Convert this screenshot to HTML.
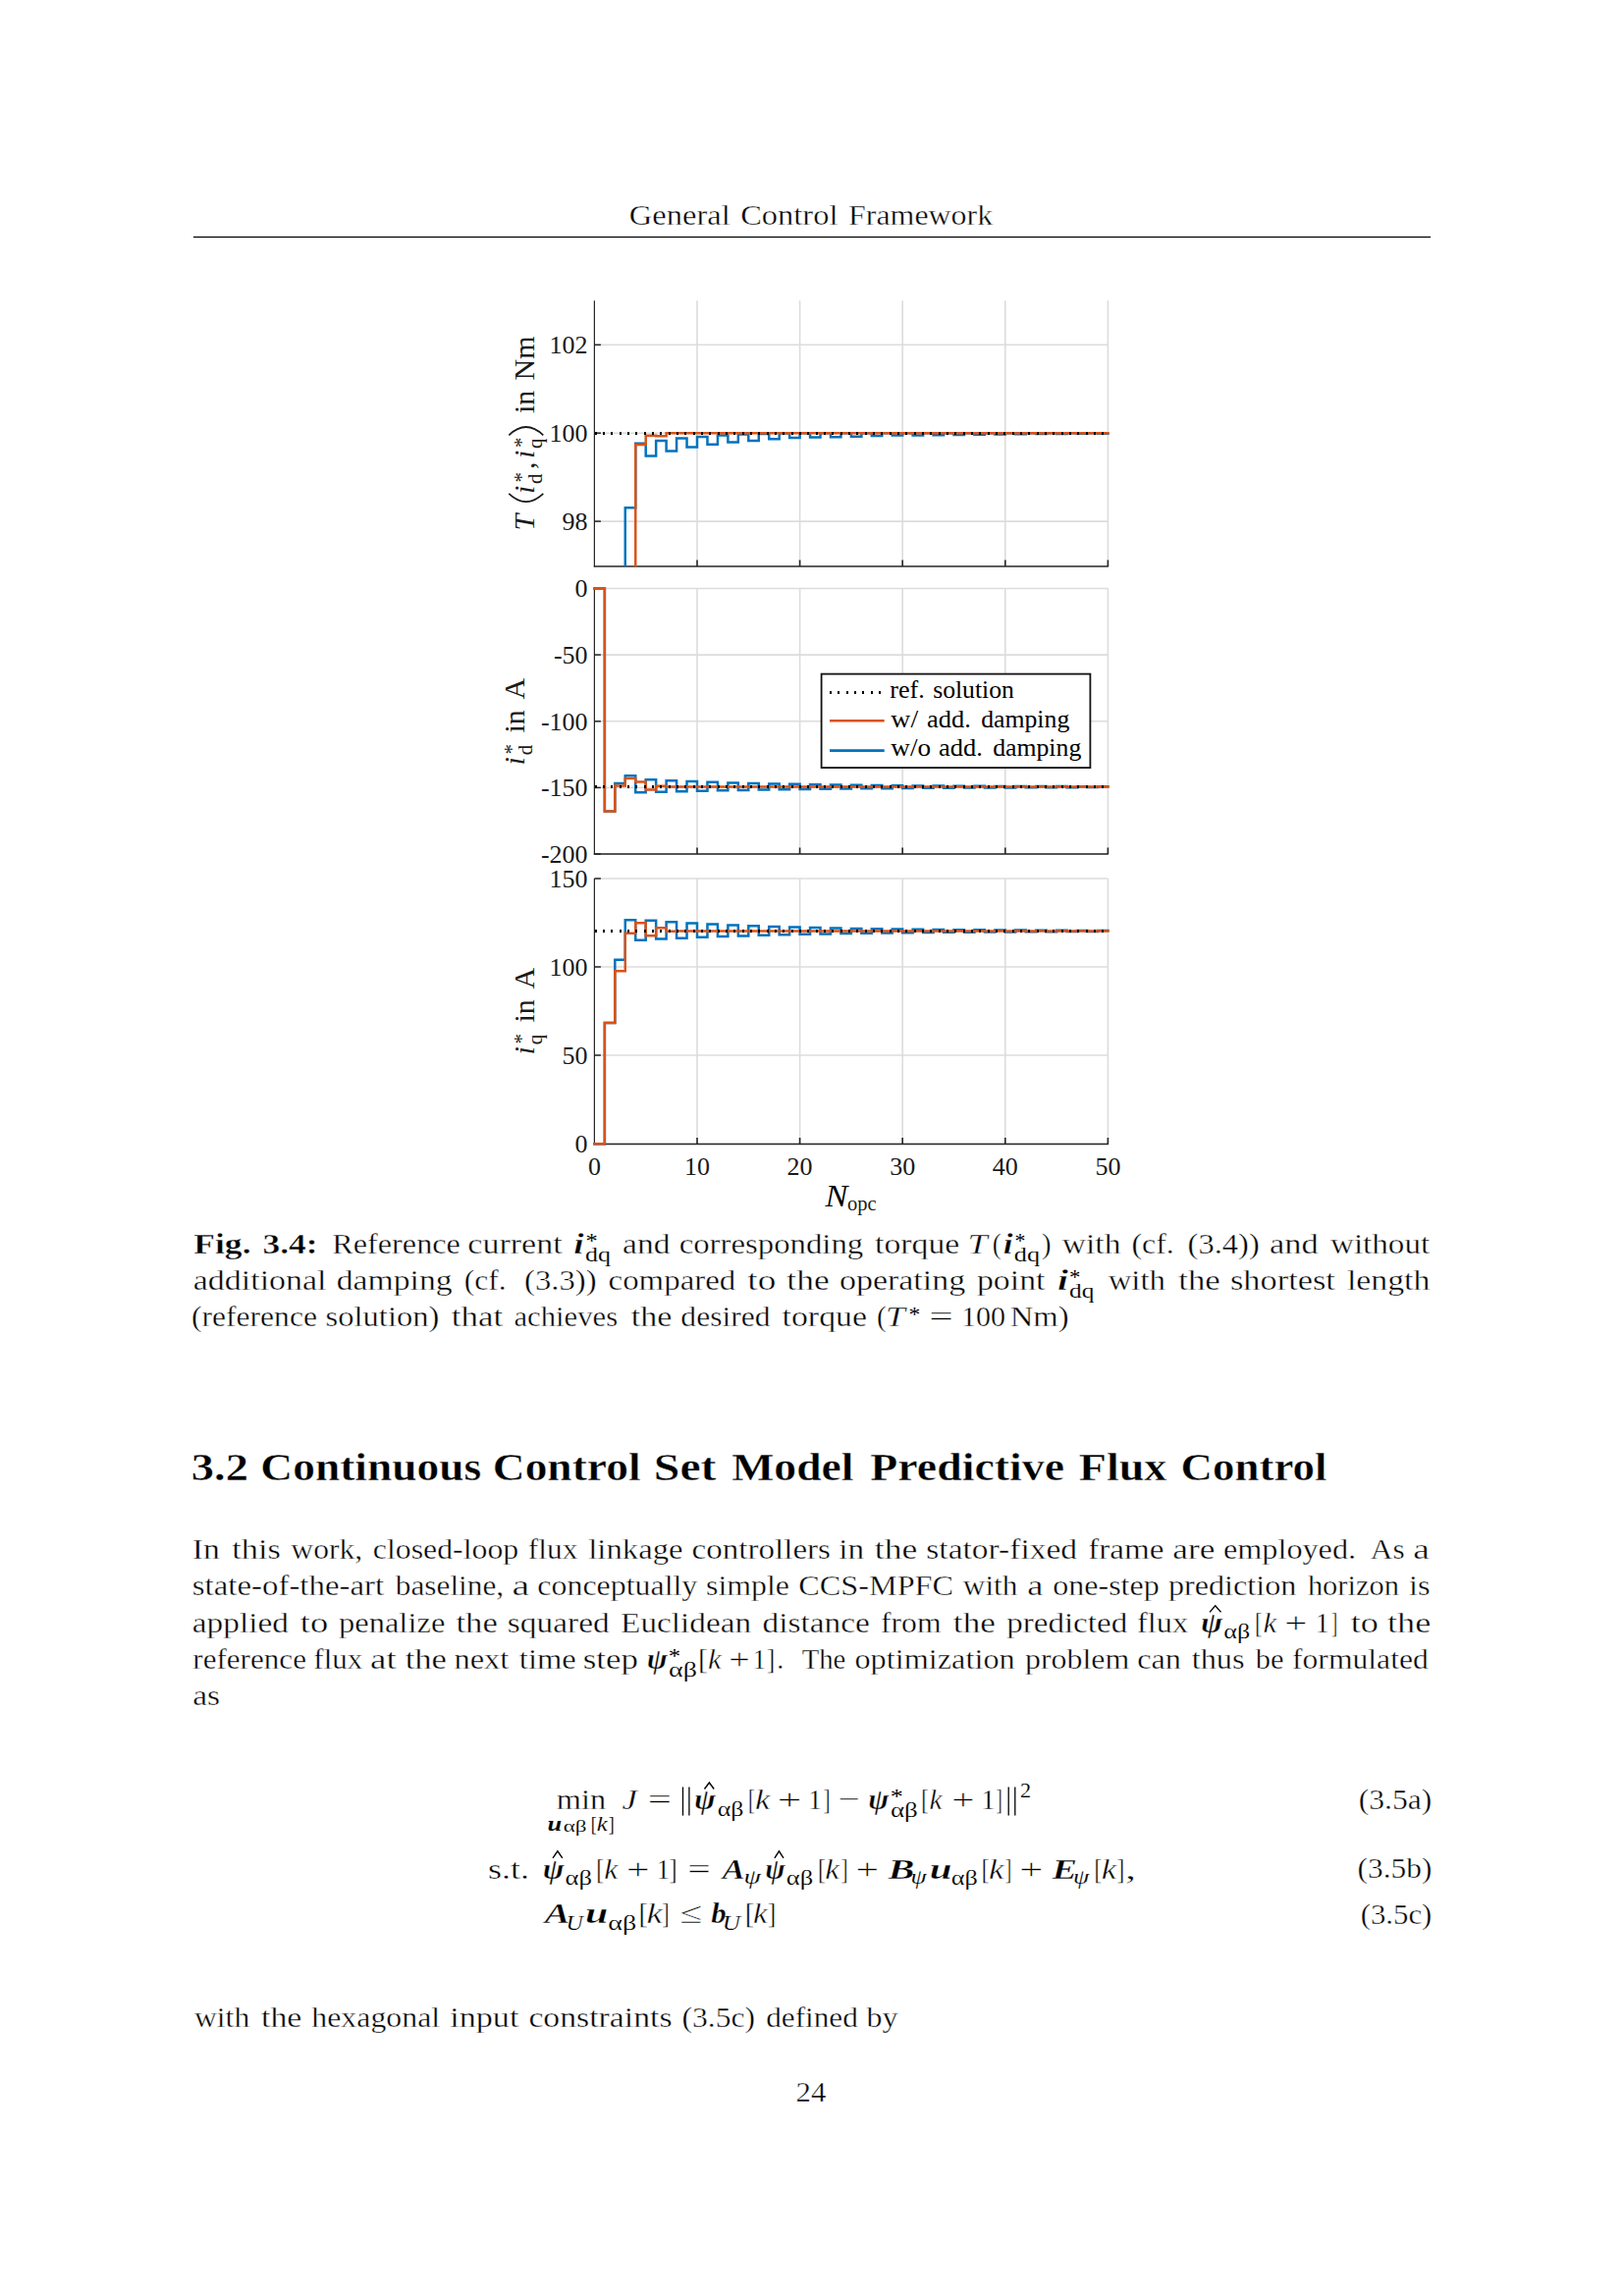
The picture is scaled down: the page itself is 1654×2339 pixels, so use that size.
<!DOCTYPE html>
<html><head><meta charset="utf-8">
<style>
html,body{margin:0;padding:0;background:#fff;}
body{width:1654px;height:2339px;overflow:hidden;}
svg{display:block;font-family:"Liberation Serif",serif;}
</style></head>
<body>
<svg width="1654" height="2339" viewBox="0 0 1654 2339" font-size="30.4" fill="#000">
<rect width="1654" height="2339" fill="#fff"/>
<g stroke="#fff" stroke-width="0.4">
<text x="640.87" y="228.70" textLength="102.99" lengthAdjust="spacingAndGlyphs">General</text>
<text x="754.17" y="228.70" textLength="99.28" lengthAdjust="spacingAndGlyphs">Control</text>
<text x="864.08" y="228.70" textLength="147.02" lengthAdjust="spacingAndGlyphs">Framework</text>
<rect x="197" y="240.8" width="1260" height="1.4" fill="#000"/>
<text x="197.29" y="1276.80" textLength="58.27" lengthAdjust="spacingAndGlyphs" style="font-weight:bold;">Fig.</text>
<text x="267.47" y="1276.80" textLength="56.21" lengthAdjust="spacingAndGlyphs" style="font-weight:bold;">3.4:</text>
<text x="338.27" y="1276.80" textLength="130.65" lengthAdjust="spacingAndGlyphs">Reference</text>
<text x="476.30" y="1276.80" textLength="96.40" lengthAdjust="spacingAndGlyphs">current</text>
<text x="584.25" y="1276.80" textLength="10.42" lengthAdjust="spacingAndGlyphs" style="font-style:italic;font-weight:bold;">i</text>
<text x="596.41" y="1271.15" textLength="12.15" lengthAdjust="spacingAndGlyphs" font-size="21.3" stroke-width="0.12" stroke="none">*</text>
<text x="596.06" y="1284.80" textLength="26.01" lengthAdjust="spacingAndGlyphs" font-size="21.3" stroke-width="0.12">dq</text>
<text x="634.12" y="1276.80" textLength="48.39" lengthAdjust="spacingAndGlyphs">and</text>
<text x="691.65" y="1276.80" textLength="187.57" lengthAdjust="spacingAndGlyphs">corresponding</text>
<text x="891.07" y="1276.80" textLength="86.30" lengthAdjust="spacingAndGlyphs">torque</text>
<text x="985.63" y="1276.80" textLength="20.13" lengthAdjust="spacingAndGlyphs" style="font-style:italic;">T</text>
<text x="1010.82" y="1276.80" textLength="8.95" lengthAdjust="spacingAndGlyphs">(</text>
<text x="1021.70" y="1276.80" textLength="9.86" lengthAdjust="spacingAndGlyphs" style="font-style:italic;font-weight:bold;">i</text>
<text x="1033.53" y="1271.15" textLength="10.91" lengthAdjust="spacingAndGlyphs" font-size="21.3" stroke-width="0.12" stroke="none">*</text>
<text x="1032.75" y="1284.80" textLength="26.33" lengthAdjust="spacingAndGlyphs" font-size="21.3" stroke-width="0.12">dq</text>
<text x="1060.97" y="1276.80" textLength="9.59" lengthAdjust="spacingAndGlyphs">)</text>
<text x="1081.87" y="1276.80" textLength="59.57" lengthAdjust="spacingAndGlyphs">with</text>
<text x="1152.40" y="1276.80" textLength="43.30" lengthAdjust="spacingAndGlyphs">(cf.</text>
<text x="1209.57" y="1276.80" textLength="73.16" lengthAdjust="spacingAndGlyphs">(3.4))</text>
<text x="1292.99" y="1276.80" textLength="49.63" lengthAdjust="spacingAndGlyphs">and</text>
<text x="1354.97" y="1276.80" textLength="101.23" lengthAdjust="spacingAndGlyphs">without</text>
<text x="196.71" y="1313.80" textLength="135.87" lengthAdjust="spacingAndGlyphs">additional</text>
<text x="342.68" y="1313.80" textLength="117.96" lengthAdjust="spacingAndGlyphs">damping</text>
<text x="472.82" y="1313.80" textLength="42.75" lengthAdjust="spacingAndGlyphs">(cf.</text>
<text x="534.06" y="1313.80" textLength="73.47" lengthAdjust="spacingAndGlyphs">(3.3))</text>
<text x="619.55" y="1313.80" textLength="129.76" lengthAdjust="spacingAndGlyphs">compared</text>
<text x="761.34" y="1313.80" textLength="28.98" lengthAdjust="spacingAndGlyphs">to</text>
<text x="801.35" y="1313.80" textLength="43.27" lengthAdjust="spacingAndGlyphs">the</text>
<text x="854.91" y="1313.80" textLength="128.34" lengthAdjust="spacingAndGlyphs">operating</text>
<text x="994.95" y="1313.80" textLength="69.54" lengthAdjust="spacingAndGlyphs">point</text>
<text x="1076.90" y="1313.80" textLength="10.98" lengthAdjust="spacingAndGlyphs" style="font-style:italic;font-weight:bold;">i</text>
<text x="1089.09" y="1307.75" textLength="11.41" lengthAdjust="spacingAndGlyphs" font-size="21.3" stroke-width="0.12" stroke="none">*</text>
<text x="1088.98" y="1322.30" textLength="25.38" lengthAdjust="spacingAndGlyphs" font-size="21.3" stroke-width="0.12">dq</text>
<text x="1128.67" y="1313.80" textLength="58.36" lengthAdjust="spacingAndGlyphs">with</text>
<text x="1200.26" y="1313.80" textLength="42.55" lengthAdjust="spacingAndGlyphs">the</text>
<text x="1252.99" y="1313.80" textLength="106.91" lengthAdjust="spacingAndGlyphs">shortest</text>
<text x="1371.92" y="1313.80" textLength="84.52" lengthAdjust="spacingAndGlyphs">length</text>
<text x="194.91" y="1351.10" textLength="128.09" lengthAdjust="spacingAndGlyphs">(reference</text>
<text x="331.56" y="1351.10" textLength="115.87" lengthAdjust="spacingAndGlyphs">solution)</text>
<text x="459.76" y="1351.10" textLength="52.35" lengthAdjust="spacingAndGlyphs">that</text>
<text x="523.42" y="1351.10" textLength="105.79" lengthAdjust="spacingAndGlyphs">achieves</text>
<text x="642.87" y="1351.10" textLength="41.61" lengthAdjust="spacingAndGlyphs">the</text>
<text x="693.36" y="1351.10" textLength="91.13" lengthAdjust="spacingAndGlyphs">desired</text>
<text x="796.57" y="1351.10" textLength="86.40" lengthAdjust="spacingAndGlyphs">torque</text>
<text x="892.92" y="1351.10" textLength="9.72" lengthAdjust="spacingAndGlyphs">(</text>
<text x="902.07" y="1351.10" textLength="19.83" lengthAdjust="spacingAndGlyphs" style="font-style:italic;">T</text>
<text x="925.55" y="1345.75" textLength="11.78" lengthAdjust="spacingAndGlyphs" font-size="21.3" stroke-width="0.12" stroke="none">*</text>
<text x="946.23" y="1351.10" textLength="24.60" lengthAdjust="spacingAndGlyphs">=</text>
<text x="978.96" y="1351.10" textLength="45.09" lengthAdjust="spacingAndGlyphs">100</text>
<text x="1028.76" y="1351.10" textLength="59.98" lengthAdjust="spacingAndGlyphs">Nm)</text>
<text x="194.85" y="1507.60" textLength="58.15" lengthAdjust="spacingAndGlyphs" font-size="39.85" style="font-weight:bold;">3.2</text>
<text x="265.38" y="1507.60" textLength="224.93" lengthAdjust="spacingAndGlyphs" font-size="39.85" style="font-weight:bold;">Continuous</text>
<text x="501.79" y="1507.60" textLength="150.78" lengthAdjust="spacingAndGlyphs" font-size="39.85" style="font-weight:bold;">Control</text>
<text x="665.86" y="1507.60" textLength="63.65" lengthAdjust="spacingAndGlyphs" font-size="39.85" style="font-weight:bold;">Set</text>
<text x="745.22" y="1507.60" textLength="124.26" lengthAdjust="spacingAndGlyphs" font-size="39.85" style="font-weight:bold;">Model</text>
<text x="886.32" y="1507.60" textLength="197.76" lengthAdjust="spacingAndGlyphs" font-size="39.85" style="font-weight:bold;">Predictive</text>
<text x="1098.71" y="1507.60" textLength="89.74" lengthAdjust="spacingAndGlyphs" font-size="39.85" style="font-weight:bold;">Flux</text>
<text x="1202.62" y="1507.60" textLength="148.84" lengthAdjust="spacingAndGlyphs" font-size="39.85" style="font-weight:bold;">Control</text>
<text x="195.88" y="1588.10" textLength="28.13" lengthAdjust="spacingAndGlyphs">In</text>
<text x="236.16" y="1588.10" textLength="49.68" lengthAdjust="spacingAndGlyphs">this</text>
<text x="296.37" y="1588.10" textLength="72.92" lengthAdjust="spacingAndGlyphs">work,</text>
<text x="379.89" y="1588.10" textLength="148.35" lengthAdjust="spacingAndGlyphs">closed-loop</text>
<text x="537.83" y="1588.10" textLength="50.55" lengthAdjust="spacingAndGlyphs">flux</text>
<text x="599.25" y="1588.10" textLength="96.29" lengthAdjust="spacingAndGlyphs">linkage</text>
<text x="704.64" y="1588.10" textLength="141.35" lengthAdjust="spacingAndGlyphs">controllers</text>
<text x="854.30" y="1588.10" textLength="25.80" lengthAdjust="spacingAndGlyphs">in</text>
<text x="890.85" y="1588.10" textLength="43.48" lengthAdjust="spacingAndGlyphs">the</text>
<text x="943.33" y="1588.10" textLength="153.78" lengthAdjust="spacingAndGlyphs">stator-fixed</text>
<text x="1108.28" y="1588.10" textLength="77.27" lengthAdjust="spacingAndGlyphs">frame</text>
<text x="1194.26" y="1588.10" textLength="43.06" lengthAdjust="spacingAndGlyphs">are</text>
<text x="1245.94" y="1588.10" textLength="135.18" lengthAdjust="spacingAndGlyphs">employed.</text>
<text x="1395.89" y="1588.10" textLength="34.73" lengthAdjust="spacingAndGlyphs">As</text>
<text x="1439.18" y="1588.10" textLength="16.63" lengthAdjust="spacingAndGlyphs">a</text>
<text x="195.75" y="1625.00" textLength="195.44" lengthAdjust="spacingAndGlyphs">state-of-the-art</text>
<text x="402.80" y="1625.00" textLength="110.37" lengthAdjust="spacingAndGlyphs">baseline,</text>
<text x="521.59" y="1625.00" textLength="17.75" lengthAdjust="spacingAndGlyphs">a</text>
<text x="547.39" y="1625.00" textLength="162.94" lengthAdjust="spacingAndGlyphs">conceptually</text>
<text x="719.09" y="1625.00" textLength="84.91" lengthAdjust="spacingAndGlyphs">simple</text>
<text x="813.18" y="1625.00" textLength="157.91" lengthAdjust="spacingAndGlyphs">CCS-MPFC</text>
<text x="980.87" y="1625.00" textLength="55.44" lengthAdjust="spacingAndGlyphs">with</text>
<text x="1046.22" y="1625.00" textLength="16.18" lengthAdjust="spacingAndGlyphs">a</text>
<text x="1072.28" y="1625.00" textLength="108.47" lengthAdjust="spacingAndGlyphs">one-step</text>
<text x="1189.98" y="1625.00" textLength="130.41" lengthAdjust="spacingAndGlyphs">prediction</text>
<text x="1331.90" y="1625.00" textLength="93.06" lengthAdjust="spacingAndGlyphs">horizon</text>
<text x="1434.92" y="1625.00" textLength="21.55" lengthAdjust="spacingAndGlyphs">is</text>
<text x="195.73" y="1662.60" textLength="98.28" lengthAdjust="spacingAndGlyphs">applied</text>
<text x="305.84" y="1662.60" textLength="28.45" lengthAdjust="spacingAndGlyphs">to</text>
<text x="344.98" y="1662.60" textLength="108.35" lengthAdjust="spacingAndGlyphs">penalize</text>
<text x="464.46" y="1662.60" textLength="42.34" lengthAdjust="spacingAndGlyphs">the</text>
<text x="516.83" y="1662.60" textLength="103.88" lengthAdjust="spacingAndGlyphs">squared</text>
<text x="632.14" y="1662.60" textLength="132.96" lengthAdjust="spacingAndGlyphs">Euclidean</text>
<text x="776.59" y="1662.60" textLength="109.36" lengthAdjust="spacingAndGlyphs">distance</text>
<text x="897.03" y="1662.60" textLength="61.57" lengthAdjust="spacingAndGlyphs">from</text>
<text x="970.86" y="1662.60" textLength="42.96" lengthAdjust="spacingAndGlyphs">the</text>
<text x="1025.17" y="1662.60" textLength="123.04" lengthAdjust="spacingAndGlyphs">predicted</text>
<text x="1158.11" y="1662.60" textLength="52.09" lengthAdjust="spacingAndGlyphs">flux</text>
<text x="1223.04" y="1662.60" textLength="22.15" lengthAdjust="spacingAndGlyphs" style="font-style:italic;font-weight:bold;">ψ</text>
<path d="M1232.00,1642.40 L1237.75,1635.70 L1243.50,1642.40" fill="none" stroke="#000" stroke-width="1.4" stroke-linejoin="miter"/>
<text x="1246.31" y="1669.10" textLength="26.90" lengthAdjust="spacingAndGlyphs" font-size="21.3" stroke-width="0.12">αβ</text>
<text x="1278.23" y="1662.60" textLength="7.03" lengthAdjust="spacingAndGlyphs">[</text>
<text x="1286.50" y="1662.60" textLength="13.84" lengthAdjust="spacingAndGlyphs" style="font-style:italic;">k</text>
<text x="1308.26" y="1662.60" textLength="23.15" lengthAdjust="spacingAndGlyphs">+</text>
<text x="1339.18" y="1662.60" textLength="14.91" lengthAdjust="spacingAndGlyphs">1</text>
<text x="1356.37" y="1662.60" textLength="5.83" lengthAdjust="spacingAndGlyphs">]</text>
<text x="1375.75" y="1662.60" textLength="81.51" lengthAdjust="spacingAndGlyphs">to the</text>
<text x="196.28" y="1700.30" textLength="115.70" lengthAdjust="spacingAndGlyphs">reference</text>
<text x="319.34" y="1700.30" textLength="50.03" lengthAdjust="spacingAndGlyphs">flux</text>
<text x="377.10" y="1700.30" textLength="26.72" lengthAdjust="spacingAndGlyphs">at</text>
<text x="412.66" y="1700.30" textLength="42.34" lengthAdjust="spacingAndGlyphs">the</text>
<text x="462.45" y="1700.30" textLength="55.94" lengthAdjust="spacingAndGlyphs">next</text>
<text x="528.88" y="1700.30" textLength="57.95" lengthAdjust="spacingAndGlyphs">time</text>
<text x="593.67" y="1700.30" textLength="56.19" lengthAdjust="spacingAndGlyphs">step</text>
<text x="658.70" y="1700.30" textLength="21.09" lengthAdjust="spacingAndGlyphs" style="font-style:italic;font-weight:bold;">ψ</text>
<text x="680.89" y="1694.45" textLength="12.40" lengthAdjust="spacingAndGlyphs" font-size="21.3" stroke-width="0.12" stroke="none">*</text>
<text x="681.04" y="1708.30" textLength="28.85" lengthAdjust="spacingAndGlyphs" font-size="21.3" stroke-width="0.12">αβ</text>
<text x="711.00" y="1700.30" textLength="9.87" lengthAdjust="spacingAndGlyphs">[</text>
<text x="721.11" y="1700.30" textLength="13.74" lengthAdjust="spacingAndGlyphs" style="font-style:italic;">k</text>
<text x="742.31" y="1700.30" textLength="21.45" lengthAdjust="spacingAndGlyphs">+</text>
<text x="766.13" y="1700.30" textLength="14.06" lengthAdjust="spacingAndGlyphs">1</text>
<text x="781.01" y="1700.30" textLength="8.23" lengthAdjust="spacingAndGlyphs">]</text>
<text x="791.16" y="1700.30" textLength="6.98" lengthAdjust="spacingAndGlyphs">.</text>
<text x="816.68" y="1700.30" textLength="44.72" lengthAdjust="spacingAndGlyphs">The</text>
<text x="870.47" y="1700.30" textLength="163.22" lengthAdjust="spacingAndGlyphs">optimization</text>
<text x="1043.99" y="1700.30" textLength="106.21" lengthAdjust="spacingAndGlyphs">problem</text>
<text x="1158.27" y="1700.30" textLength="44.71" lengthAdjust="spacingAndGlyphs">can</text>
<text x="1213.68" y="1700.30" textLength="53.88" lengthAdjust="spacingAndGlyphs">thus</text>
<text x="1278.80" y="1700.30" textLength="28.76" lengthAdjust="spacingAndGlyphs">be</text>
<text x="1316.03" y="1700.30" textLength="138.76" lengthAdjust="spacingAndGlyphs">formulated</text>
<text x="196.22" y="1737.40" textLength="27.89" lengthAdjust="spacingAndGlyphs">as</text>
<text x="566.82" y="1843.00" textLength="50.27" lengthAdjust="spacingAndGlyphs">min</text>
<text x="557.43" y="1865.10" textLength="14.74" lengthAdjust="spacingAndGlyphs" font-size="21.3" stroke-width="0.12" style="font-style:italic;font-weight:bold;">u</text>
<text x="573.72" y="1866.00" textLength="23.86" lengthAdjust="spacingAndGlyphs" font-size="17.0" stroke-width="0.12">αβ</text>
<text x="601.67" y="1865.10" textLength="5.98" lengthAdjust="spacingAndGlyphs" font-size="21.3" stroke-width="0.12">[</text>
<text x="607.80" y="1865.10" textLength="10.85" lengthAdjust="spacingAndGlyphs" font-size="21.3" stroke-width="0.12" style="font-style:italic;">k</text>
<text x="619.75" y="1865.10" textLength="5.98" lengthAdjust="spacingAndGlyphs" font-size="21.3" stroke-width="0.12">]</text>
<text x="633.48" y="1843.00" textLength="15.37" lengthAdjust="spacingAndGlyphs" style="font-style:italic;">J</text>
<text x="659.76" y="1843.00" textLength="24.24" lengthAdjust="spacingAndGlyphs">=</text>
<line x1="695.50" y1="1820.5" x2="695.50" y2="1849.6" stroke="#000" stroke-width="1.3"/><line x1="701.90" y1="1820.5" x2="701.90" y2="1849.6" stroke="#000" stroke-width="1.3"/>
<text x="707.06" y="1843.00" textLength="21.83" lengthAdjust="spacingAndGlyphs" style="font-style:italic;font-weight:bold;">ψ</text>
<path d="M717.50,1822.50 L722.35,1816.00 L727.20,1822.50" fill="none" stroke="#000" stroke-width="1.4" stroke-linejoin="miter"/>
<text x="730.72" y="1849.50" textLength="26.68" lengthAdjust="spacingAndGlyphs" font-size="21.3" stroke-width="0.12">αβ</text>
<text x="762.00" y="1843.00" textLength="6.73" lengthAdjust="spacingAndGlyphs">[</text>
<text x="769.01" y="1843.00" textLength="15.29" lengthAdjust="spacingAndGlyphs" style="font-style:italic;">k</text>
<text x="791.83" y="1843.00" textLength="24.60" lengthAdjust="spacingAndGlyphs">+</text>
<text x="822.85" y="1843.00" textLength="14.49" lengthAdjust="spacingAndGlyphs">1</text>
<text x="838.77" y="1843.00" textLength="6.73" lengthAdjust="spacingAndGlyphs">]</text>
<text x="853.23" y="1843.00" textLength="22.30" lengthAdjust="spacingAndGlyphs">−</text>
<text x="884.30" y="1843.00" textLength="21.09" lengthAdjust="spacingAndGlyphs" style="font-style:italic;font-weight:bold;">ψ</text>
<text x="906.73" y="1837.15" textLength="13.02" lengthAdjust="spacingAndGlyphs" font-size="21.3" stroke-width="0.12" stroke="none">*</text>
<text x="906.97" y="1851.00" textLength="27.87" lengthAdjust="spacingAndGlyphs" font-size="21.3" stroke-width="0.12">αβ</text>
<text x="938.37" y="1843.00" textLength="7.33" lengthAdjust="spacingAndGlyphs">[</text>
<text x="946.45" y="1843.00" textLength="13.12" lengthAdjust="spacingAndGlyphs" style="font-style:italic;">k</text>
<text x="969.25" y="1843.00" textLength="23.27" lengthAdjust="spacingAndGlyphs">+</text>
<text x="999.10" y="1843.00" textLength="14.77" lengthAdjust="spacingAndGlyphs">1</text>
<text x="1014.65" y="1843.00" textLength="5.98" lengthAdjust="spacingAndGlyphs">]</text>
<line x1="1027.20" y1="1820.5" x2="1027.20" y2="1849.6" stroke="#000" stroke-width="1.3"/><line x1="1033.80" y1="1820.5" x2="1033.80" y2="1849.6" stroke="#000" stroke-width="1.3"/>
<text x="1039.12" y="1830.90" textLength="11.10" lengthAdjust="spacingAndGlyphs" font-size="21.3" stroke-width="0.12">2</text>
<text x="496.92" y="1913.90" textLength="42.05" lengthAdjust="spacingAndGlyphs">s.t.</text>
<text x="552.66" y="1913.90" textLength="21.83" lengthAdjust="spacingAndGlyphs" style="font-style:italic;font-weight:bold;">ψ</text>
<path d="M563.00,1892.90 L567.90,1885.80 L572.80,1892.90" fill="none" stroke="#000" stroke-width="1.4" stroke-linejoin="miter"/>
<text x="575.59" y="1920.40" textLength="27.44" lengthAdjust="spacingAndGlyphs" font-size="21.3" stroke-width="0.12">αβ</text>
<text x="607.30" y="1913.90" textLength="7.63" lengthAdjust="spacingAndGlyphs">[</text>
<text x="615.19" y="1913.90" textLength="14.05" lengthAdjust="spacingAndGlyphs" style="font-style:italic;">k</text>
<text x="637.92" y="1913.90" textLength="23.51" lengthAdjust="spacingAndGlyphs">+</text>
<text x="668.58" y="1913.90" textLength="13.78" lengthAdjust="spacingAndGlyphs">1</text>
<text x="681.86" y="1913.90" textLength="7.78" lengthAdjust="spacingAndGlyphs">]</text>
<text x="700.22" y="1913.90" textLength="23.51" lengthAdjust="spacingAndGlyphs">=</text>
<text x="735.77" y="1913.90" textLength="22.83" lengthAdjust="spacingAndGlyphs" style="font-style:italic;font-weight:bold;">A</text>
<text x="757.53" y="1918.71" textLength="17.37" lengthAdjust="spacingAndGlyphs" font-size="21.3" stroke-width="0.12" style="font-style:italic;">ψ</text>
<text x="779.24" y="1913.90" textLength="20.46" lengthAdjust="spacingAndGlyphs" style="font-style:italic;font-weight:bold;">ψ</text>
<path d="M788.90,1892.90 L793.45,1885.80 L798.00,1892.90" fill="none" stroke="#000" stroke-width="1.4" stroke-linejoin="miter"/>
<text x="800.89" y="1920.40" textLength="27.33" lengthAdjust="spacingAndGlyphs" font-size="21.3" stroke-width="0.12">αβ</text>
<text x="833.07" y="1913.90" textLength="7.78" lengthAdjust="spacingAndGlyphs">[</text>
<text x="840.35" y="1913.90" textLength="14.67" lengthAdjust="spacingAndGlyphs" style="font-style:italic;">k</text>
<text x="856.77" y="1913.90" textLength="6.73" lengthAdjust="spacingAndGlyphs">]</text>
<text x="871.52" y="1913.90" textLength="23.51" lengthAdjust="spacingAndGlyphs">+</text>
<text x="904.47" y="1913.90" textLength="26.92" lengthAdjust="spacingAndGlyphs" style="font-style:italic;font-weight:bold;">B</text>
<text x="927.56" y="1918.71" textLength="16.08" lengthAdjust="spacingAndGlyphs" font-size="21.3" stroke-width="0.12" style="font-style:italic;">ψ</text>
<text x="946.70" y="1913.90" textLength="22.73" lengthAdjust="spacingAndGlyphs" style="font-style:italic;font-weight:bold;">u</text>
<text x="968.80" y="1920.40" textLength="27.01" lengthAdjust="spacingAndGlyphs" font-size="21.3" stroke-width="0.12">αβ</text>
<text x="999.73" y="1913.90" textLength="7.48" lengthAdjust="spacingAndGlyphs">[</text>
<text x="1006.99" y="1913.90" textLength="15.49" lengthAdjust="spacingAndGlyphs" style="font-style:italic;">k</text>
<text x="1024.03" y="1913.90" textLength="6.13" lengthAdjust="spacingAndGlyphs">]</text>
<text x="1038.37" y="1913.90" textLength="24.12" lengthAdjust="spacingAndGlyphs">+</text>
<text x="1071.48" y="1913.90" textLength="25.56" lengthAdjust="spacingAndGlyphs" style="font-style:italic;font-weight:bold;">E</text>
<text x="1092.95" y="1918.71" textLength="16.18" lengthAdjust="spacingAndGlyphs" font-size="21.3" stroke-width="0.12" style="font-style:italic;">ψ</text>
<text x="1114.43" y="1913.90" textLength="7.48" lengthAdjust="spacingAndGlyphs">[</text>
<text x="1121.80" y="1913.90" textLength="15.39" lengthAdjust="spacingAndGlyphs" style="font-style:italic;">k</text>
<text x="1137.69" y="1913.90" textLength="7.48" lengthAdjust="spacingAndGlyphs">]</text>
<text x="1146.01" y="1913.90" textLength="11.08" lengthAdjust="spacingAndGlyphs">,</text>
<text x="554.88" y="1959.40" textLength="25.49" lengthAdjust="spacingAndGlyphs" style="font-style:italic;font-weight:bold;">A</text>
<text x="576.60" y="1965.90" textLength="17.30" lengthAdjust="spacingAndGlyphs" font-size="21.3" stroke-width="0.12" style="font-style:italic;">U</text>
<text x="596.07" y="1959.40" textLength="23.31" lengthAdjust="spacingAndGlyphs" style="font-style:italic;font-weight:bold;">u</text>
<text x="619.33" y="1965.90" textLength="28.96" lengthAdjust="spacingAndGlyphs" font-size="21.3" stroke-width="0.12">αβ</text>
<text x="650.53" y="1959.40" textLength="9.27" lengthAdjust="spacingAndGlyphs">[</text>
<text x="658.55" y="1959.40" textLength="16.22" lengthAdjust="spacingAndGlyphs" style="font-style:italic;">k</text>
<text x="674.54" y="1959.40" textLength="7.03" lengthAdjust="spacingAndGlyphs">]</text>
<text x="692.45" y="1959.40" textLength="23.12" lengthAdjust="spacingAndGlyphs">≤</text>
<text x="724.39" y="1959.40" textLength="15.43" lengthAdjust="spacingAndGlyphs" style="font-style:italic;font-weight:bold;">b</text>
<text x="735.78" y="1965.90" textLength="18.25" lengthAdjust="spacingAndGlyphs" font-size="21.3" stroke-width="0.12" style="font-style:italic;">U</text>
<text x="758.80" y="1959.40" textLength="9.42" lengthAdjust="spacingAndGlyphs">[</text>
<text x="767.05" y="1959.40" textLength="14.56" lengthAdjust="spacingAndGlyphs" style="font-style:italic;">k</text>
<text x="782.01" y="1959.40" textLength="8.23" lengthAdjust="spacingAndGlyphs">]</text>
<text x="1383.81" y="1842.60" textLength="74.58" lengthAdjust="spacingAndGlyphs">(3.5a)</text>
<text x="1382.62" y="1913.30" textLength="75.76" lengthAdjust="spacingAndGlyphs">(3.5b)</text>
<text x="1385.65" y="1959.50" textLength="72.71" lengthAdjust="spacingAndGlyphs">(3.5c)</text>
<text x="197.97" y="2064.60" textLength="56.25" lengthAdjust="spacingAndGlyphs">with</text>
<text x="265.97" y="2064.60" textLength="41.41" lengthAdjust="spacingAndGlyphs">the</text>
<text x="317.29" y="2064.60" textLength="130.85" lengthAdjust="spacingAndGlyphs">hexagonal</text>
<text x="458.18" y="2064.60" textLength="70.32" lengthAdjust="spacingAndGlyphs">input</text>
<text x="538.42" y="2064.60" textLength="146.10" lengthAdjust="spacingAndGlyphs">constraints</text>
<text x="694.41" y="2064.60" textLength="74.58" lengthAdjust="spacingAndGlyphs">(3.5c)</text>
<text x="780.17" y="2064.60" textLength="93.71" lengthAdjust="spacingAndGlyphs">defined</text>
<text x="882.60" y="2064.60" textLength="32.03" lengthAdjust="spacingAndGlyphs">by</text>
<text x="810.64" y="2140.80" textLength="30.84" lengthAdjust="spacingAndGlyphs">24</text>
</g>
<g stroke="#dcdcdc" stroke-width="1.6" fill="none">
<line x1="710.00" y1="306.3" x2="710.00" y2="577.0"/>
<line x1="814.60" y1="306.3" x2="814.60" y2="577.0"/>
<line x1="919.20" y1="306.3" x2="919.20" y2="577.0"/>
<line x1="1023.80" y1="306.3" x2="1023.80" y2="577.0"/>
<line x1="1128.40" y1="306.3" x2="1128.40" y2="577.0"/>
<line x1="605.4" y1="351.3" x2="1128.40" y2="351.3"/>
<line x1="605.4" y1="441.2" x2="1128.40" y2="441.2"/>
<line x1="605.4" y1="531.1" x2="1128.40" y2="531.1"/>
</g>
<g stroke="#262626" fill="none">
<line x1="605.4" y1="306.3" x2="605.4" y2="577.6" stroke-width="1.2"/>
<line x1="604.8" y1="577.0" x2="1128.90" y2="577.0" stroke-width="1.6"/>
<line x1="710.00" y1="577.0" x2="710.00" y2="570.5" stroke-width="1.6"/>
<line x1="814.60" y1="577.0" x2="814.60" y2="570.5" stroke-width="1.6"/>
<line x1="919.20" y1="577.0" x2="919.20" y2="570.5" stroke-width="1.6"/>
<line x1="1023.80" y1="577.0" x2="1023.80" y2="570.5" stroke-width="1.6"/>
<line x1="1128.40" y1="577.0" x2="1128.40" y2="570.5" stroke-width="1.6"/>
<line x1="605.4" y1="351.3" x2="611.9" y2="351.3" stroke-width="1.5"/>
<line x1="605.4" y1="441.2" x2="611.9" y2="441.2" stroke-width="1.5"/>
<line x1="605.4" y1="531.1" x2="611.9" y2="531.1" stroke-width="1.5"/>
</g>
<clipPath id="ctop"><rect x="602.4" y="303.3" width="529.0000000000001" height="273.9"/></clipPath>
<g clip-path="url(#ctop)" fill="none" stroke-width="2.5" stroke-linejoin="miter" stroke-linecap="square">
<path d="M605.40,700.00H615.86V700.00H626.32V700.00H636.78V517.30H647.24V451.80H657.70V464.50H668.16V449.00H678.62V459.60H689.08V446.50H699.54V455.40H710.00V445.00H720.46V452.80H730.92V443.50H741.38V450.40H751.84V442.60H762.30V449.10H772.76V442.00H783.22V447.20H793.68V441.60H804.14V446.10H814.60V441.30H825.06V445.50H835.52V441.20H845.98V445.30H856.44V441.20H866.90V444.70H877.36V441.20H887.82V443.90H898.28V441.20H908.74V443.50H919.20V441.20H929.66V443.40H940.12V441.20H950.58V443.20H961.04V441.20H971.50V442.89H981.96V441.20H992.42V442.63H1002.88V441.20H1013.34V442.41H1023.80V441.20H1034.26V442.23H1044.72V441.20H1055.18V442.07H1065.64V441.20H1076.10V441.94H1086.56V441.20H1097.02V441.82H1107.48V441.20H1117.94V441.73H1128.40" stroke="#0072BD"/>
<path d="M605.40,700.00H615.86V700.00H626.32V700.00H636.78V700.00H647.24V452.90H657.70V443.80H668.16V444.30H678.62V441.20H689.08V441.20H699.54V441.20H710.00V441.20H720.46V441.20H730.92V441.20H741.38V441.20H751.84V441.20H762.30V441.20H772.76V441.20H783.22V441.20H793.68V441.20H804.14V441.20H814.60V441.20H825.06V441.20H835.52V441.20H845.98V441.20H856.44V441.20H866.90V441.20H877.36V441.20H887.82V441.20H898.28V441.20H908.74V441.20H919.20V441.20H929.66V441.20H940.12V441.20H950.58V441.20H961.04V441.20H971.50V441.20H981.96V441.20H992.42V441.20H1002.88V441.20H1013.34V441.20H1023.80V441.20H1034.26V441.20H1044.72V441.20H1055.18V441.20H1065.64V441.20H1076.10V441.20H1086.56V441.20H1097.02V441.20H1107.48V441.20H1117.94V441.20H1128.40" stroke="#D95319"/>
</g>
<g fill="#000" shape-rendering="crispEdges"><rect x="605.80" y="439.80" width="2.0" height="2.8"/><rect x="614.13" y="439.80" width="2.0" height="2.8"/><rect x="622.46" y="439.80" width="2.0" height="2.8"/><rect x="630.79" y="439.80" width="2.0" height="2.8"/><rect x="639.12" y="439.80" width="2.0" height="2.8"/><rect x="647.45" y="439.80" width="2.0" height="2.8"/><rect x="655.78" y="439.80" width="2.0" height="2.8"/><rect x="664.11" y="439.80" width="2.0" height="2.8"/><rect x="672.44" y="439.80" width="2.0" height="2.8"/><rect x="680.77" y="439.80" width="2.0" height="2.8"/><rect x="689.10" y="439.80" width="2.0" height="2.8"/><rect x="697.43" y="439.80" width="2.0" height="2.8"/><rect x="705.76" y="439.80" width="2.0" height="2.8"/><rect x="714.09" y="439.80" width="2.0" height="2.8"/><rect x="722.42" y="439.80" width="2.0" height="2.8"/><rect x="730.75" y="439.80" width="2.0" height="2.8"/><rect x="739.08" y="439.80" width="2.0" height="2.8"/><rect x="747.41" y="439.80" width="2.0" height="2.8"/><rect x="755.74" y="439.80" width="2.0" height="2.8"/><rect x="764.07" y="439.80" width="2.0" height="2.8"/><rect x="772.40" y="439.80" width="2.0" height="2.8"/><rect x="780.73" y="439.80" width="2.0" height="2.8"/><rect x="789.06" y="439.80" width="2.0" height="2.8"/><rect x="797.39" y="439.80" width="2.0" height="2.8"/><rect x="805.72" y="439.80" width="2.0" height="2.8"/><rect x="814.05" y="439.80" width="2.0" height="2.8"/><rect x="822.38" y="439.80" width="2.0" height="2.8"/><rect x="830.71" y="439.80" width="2.0" height="2.8"/><rect x="839.04" y="439.80" width="2.0" height="2.8"/><rect x="847.37" y="439.80" width="2.0" height="2.8"/><rect x="855.70" y="439.80" width="2.0" height="2.8"/><rect x="864.03" y="439.80" width="2.0" height="2.8"/><rect x="872.36" y="439.80" width="2.0" height="2.8"/><rect x="880.69" y="439.80" width="2.0" height="2.8"/><rect x="889.02" y="439.80" width="2.0" height="2.8"/><rect x="897.35" y="439.80" width="2.0" height="2.8"/><rect x="905.68" y="439.80" width="2.0" height="2.8"/><rect x="914.01" y="439.80" width="2.0" height="2.8"/><rect x="922.34" y="439.80" width="2.0" height="2.8"/><rect x="930.67" y="439.80" width="2.0" height="2.8"/><rect x="939.00" y="439.80" width="2.0" height="2.8"/><rect x="947.33" y="439.80" width="2.0" height="2.8"/><rect x="955.66" y="439.80" width="2.0" height="2.8"/><rect x="963.99" y="439.80" width="2.0" height="2.8"/><rect x="972.32" y="439.80" width="2.0" height="2.8"/><rect x="980.65" y="439.80" width="2.0" height="2.8"/><rect x="988.98" y="439.80" width="2.0" height="2.8"/><rect x="997.31" y="439.80" width="2.0" height="2.8"/><rect x="1005.64" y="439.80" width="2.0" height="2.8"/><rect x="1013.97" y="439.80" width="2.0" height="2.8"/><rect x="1022.30" y="439.80" width="2.0" height="2.8"/><rect x="1030.63" y="439.80" width="2.0" height="2.8"/><rect x="1038.96" y="439.80" width="2.0" height="2.8"/><rect x="1047.29" y="439.80" width="2.0" height="2.8"/><rect x="1055.62" y="439.80" width="2.0" height="2.8"/><rect x="1063.95" y="439.80" width="2.0" height="2.8"/><rect x="1072.28" y="439.80" width="2.0" height="2.8"/><rect x="1080.61" y="439.80" width="2.0" height="2.8"/><rect x="1088.94" y="439.80" width="2.0" height="2.8"/><rect x="1097.27" y="439.80" width="2.0" height="2.8"/><rect x="1105.60" y="439.80" width="2.0" height="2.8"/><rect x="1113.93" y="439.80" width="2.0" height="2.8"/><rect x="1122.26" y="439.80" width="2.0" height="2.8"/></g>
<g font-family="Liberation Serif" font-size="26" fill="#1a1a1a" text-anchor="end">
<text x="598.6" y="360.10">102</text>
<text x="598.6" y="450.00">100</text>
<text x="598.6" y="539.90">98</text>
</g>
<g stroke="#dcdcdc" stroke-width="1.6" fill="none">
<line x1="710.00" y1="599.5" x2="710.00" y2="870.0"/>
<line x1="814.60" y1="599.5" x2="814.60" y2="870.0"/>
<line x1="919.20" y1="599.5" x2="919.20" y2="870.0"/>
<line x1="1023.80" y1="599.5" x2="1023.80" y2="870.0"/>
<line x1="1128.40" y1="599.5" x2="1128.40" y2="870.0"/>
<line x1="605.4" y1="599.5" x2="1128.40" y2="599.5"/>
<line x1="605.4" y1="667.1" x2="1128.40" y2="667.1"/>
<line x1="605.4" y1="734.8" x2="1128.40" y2="734.8"/>
<line x1="605.4" y1="802.4" x2="1128.40" y2="802.4"/>
<line x1="605.4" y1="870.0" x2="1128.40" y2="870.0"/>
</g>
<g stroke="#262626" fill="none">
<line x1="605.4" y1="599.5" x2="605.4" y2="870.6" stroke-width="1.2"/>
<line x1="604.8" y1="870.0" x2="1128.90" y2="870.0" stroke-width="1.6"/>
<line x1="710.00" y1="870.0" x2="710.00" y2="863.5" stroke-width="1.6"/>
<line x1="814.60" y1="870.0" x2="814.60" y2="863.5" stroke-width="1.6"/>
<line x1="919.20" y1="870.0" x2="919.20" y2="863.5" stroke-width="1.6"/>
<line x1="1023.80" y1="870.0" x2="1023.80" y2="863.5" stroke-width="1.6"/>
<line x1="1128.40" y1="870.0" x2="1128.40" y2="863.5" stroke-width="1.6"/>
<line x1="605.4" y1="599.5" x2="611.9" y2="599.5" stroke-width="1.5"/>
<line x1="605.4" y1="667.1" x2="611.9" y2="667.1" stroke-width="1.5"/>
<line x1="605.4" y1="734.8" x2="611.9" y2="734.8" stroke-width="1.5"/>
<line x1="605.4" y1="802.4" x2="611.9" y2="802.4" stroke-width="1.5"/>
<line x1="605.4" y1="870.0" x2="611.9" y2="870.0" stroke-width="1.5"/>
</g>
<clipPath id="cmid"><rect x="602.4" y="596.5" width="529.0000000000001" height="275.0"/></clipPath>
<g clip-path="url(#cmid)" fill="none" stroke-width="2.5" stroke-linejoin="miter" stroke-linecap="square">
<path d="M605.40,599.50H615.86V826.60H626.32V798.10H636.78V790.30H647.24V807.20H657.70V794.20H668.16V806.64H678.62V795.19H689.08V806.14H699.54V796.04H710.00V805.69H720.46V796.78H730.92V805.28H741.38V797.42H751.84V804.91H762.30V797.97H772.76V804.58H783.22V798.44H793.68V804.28H804.14V798.86H814.60V804.01H825.06V799.21H835.52V803.76H845.98V799.52H856.44V803.54H866.90V799.79H877.36V803.34H887.82V800.02H898.28V803.16H908.74V800.22H919.20V803.00H929.66V800.39H940.12V802.86H950.58V800.54H961.04V802.72H971.50V800.67H981.96V802.60H992.42V800.78H1002.88V802.50H1013.34V800.88H1023.80V802.40H1034.26V800.96H1044.72V802.31H1055.18V801.04H1065.64V802.23H1076.10V801.10H1086.56V802.16H1097.02V801.15H1107.48V802.10H1117.94V801.20H1128.40" stroke="#0072BD"/>
<path d="M605.40,599.50H615.86V826.60H626.32V800.50H636.78V792.90H647.24V796.40H657.70V804.60H668.16V800.70H678.62V801.50H689.08V801.50H699.54V801.50H710.00V801.50H720.46V801.50H730.92V801.50H741.38V801.50H751.84V801.50H762.30V801.50H772.76V801.50H783.22V801.50H793.68V801.50H804.14V801.50H814.60V801.50H825.06V801.50H835.52V801.50H845.98V801.50H856.44V801.50H866.90V801.50H877.36V801.50H887.82V801.50H898.28V801.50H908.74V801.50H919.20V801.50H929.66V801.50H940.12V801.50H950.58V801.50H961.04V801.50H971.50V801.50H981.96V801.50H992.42V801.50H1002.88V801.50H1013.34V801.50H1023.80V801.50H1034.26V801.50H1044.72V801.50H1055.18V801.50H1065.64V801.50H1076.10V801.50H1086.56V801.50H1097.02V801.50H1107.48V801.50H1117.94V801.50H1128.40" stroke="#D95319"/>
</g>
<g fill="#000" shape-rendering="crispEdges"><rect x="605.80" y="800.10" width="2.0" height="2.8"/><rect x="614.13" y="800.10" width="2.0" height="2.8"/><rect x="622.46" y="800.10" width="2.0" height="2.8"/><rect x="630.79" y="800.10" width="2.0" height="2.8"/><rect x="639.12" y="800.10" width="2.0" height="2.8"/><rect x="647.45" y="800.10" width="2.0" height="2.8"/><rect x="655.78" y="800.10" width="2.0" height="2.8"/><rect x="664.11" y="800.10" width="2.0" height="2.8"/><rect x="672.44" y="800.10" width="2.0" height="2.8"/><rect x="680.77" y="800.10" width="2.0" height="2.8"/><rect x="689.10" y="800.10" width="2.0" height="2.8"/><rect x="697.43" y="800.10" width="2.0" height="2.8"/><rect x="705.76" y="800.10" width="2.0" height="2.8"/><rect x="714.09" y="800.10" width="2.0" height="2.8"/><rect x="722.42" y="800.10" width="2.0" height="2.8"/><rect x="730.75" y="800.10" width="2.0" height="2.8"/><rect x="739.08" y="800.10" width="2.0" height="2.8"/><rect x="747.41" y="800.10" width="2.0" height="2.8"/><rect x="755.74" y="800.10" width="2.0" height="2.8"/><rect x="764.07" y="800.10" width="2.0" height="2.8"/><rect x="772.40" y="800.10" width="2.0" height="2.8"/><rect x="780.73" y="800.10" width="2.0" height="2.8"/><rect x="789.06" y="800.10" width="2.0" height="2.8"/><rect x="797.39" y="800.10" width="2.0" height="2.8"/><rect x="805.72" y="800.10" width="2.0" height="2.8"/><rect x="814.05" y="800.10" width="2.0" height="2.8"/><rect x="822.38" y="800.10" width="2.0" height="2.8"/><rect x="830.71" y="800.10" width="2.0" height="2.8"/><rect x="839.04" y="800.10" width="2.0" height="2.8"/><rect x="847.37" y="800.10" width="2.0" height="2.8"/><rect x="855.70" y="800.10" width="2.0" height="2.8"/><rect x="864.03" y="800.10" width="2.0" height="2.8"/><rect x="872.36" y="800.10" width="2.0" height="2.8"/><rect x="880.69" y="800.10" width="2.0" height="2.8"/><rect x="889.02" y="800.10" width="2.0" height="2.8"/><rect x="897.35" y="800.10" width="2.0" height="2.8"/><rect x="905.68" y="800.10" width="2.0" height="2.8"/><rect x="914.01" y="800.10" width="2.0" height="2.8"/><rect x="922.34" y="800.10" width="2.0" height="2.8"/><rect x="930.67" y="800.10" width="2.0" height="2.8"/><rect x="939.00" y="800.10" width="2.0" height="2.8"/><rect x="947.33" y="800.10" width="2.0" height="2.8"/><rect x="955.66" y="800.10" width="2.0" height="2.8"/><rect x="963.99" y="800.10" width="2.0" height="2.8"/><rect x="972.32" y="800.10" width="2.0" height="2.8"/><rect x="980.65" y="800.10" width="2.0" height="2.8"/><rect x="988.98" y="800.10" width="2.0" height="2.8"/><rect x="997.31" y="800.10" width="2.0" height="2.8"/><rect x="1005.64" y="800.10" width="2.0" height="2.8"/><rect x="1013.97" y="800.10" width="2.0" height="2.8"/><rect x="1022.30" y="800.10" width="2.0" height="2.8"/><rect x="1030.63" y="800.10" width="2.0" height="2.8"/><rect x="1038.96" y="800.10" width="2.0" height="2.8"/><rect x="1047.29" y="800.10" width="2.0" height="2.8"/><rect x="1055.62" y="800.10" width="2.0" height="2.8"/><rect x="1063.95" y="800.10" width="2.0" height="2.8"/><rect x="1072.28" y="800.10" width="2.0" height="2.8"/><rect x="1080.61" y="800.10" width="2.0" height="2.8"/><rect x="1088.94" y="800.10" width="2.0" height="2.8"/><rect x="1097.27" y="800.10" width="2.0" height="2.8"/><rect x="1105.60" y="800.10" width="2.0" height="2.8"/><rect x="1113.93" y="800.10" width="2.0" height="2.8"/><rect x="1122.26" y="800.10" width="2.0" height="2.8"/></g>
<g font-family="Liberation Serif" font-size="26" fill="#1a1a1a" text-anchor="end">
<text x="598.6" y="608.30">0</text>
<text x="598.6" y="675.90">-50</text>
<text x="598.6" y="743.60">-100</text>
<text x="598.6" y="811.20">-150</text>
<text x="598.6" y="878.80">-200</text>
</g>
<g stroke="#dcdcdc" stroke-width="1.6" fill="none">
<line x1="710.00" y1="895.0" x2="710.00" y2="1165.5"/>
<line x1="814.60" y1="895.0" x2="814.60" y2="1165.5"/>
<line x1="919.20" y1="895.0" x2="919.20" y2="1165.5"/>
<line x1="1023.80" y1="895.0" x2="1023.80" y2="1165.5"/>
<line x1="1128.40" y1="895.0" x2="1128.40" y2="1165.5"/>
<line x1="605.4" y1="895.0" x2="1128.40" y2="895.0"/>
<line x1="605.4" y1="985.0" x2="1128.40" y2="985.0"/>
<line x1="605.4" y1="1075.0" x2="1128.40" y2="1075.0"/>
<line x1="605.4" y1="1165.3" x2="1128.40" y2="1165.3"/>
</g>
<g stroke="#262626" fill="none">
<line x1="605.4" y1="895.0" x2="605.4" y2="1166.1" stroke-width="1.2"/>
<line x1="604.8" y1="1165.5" x2="1128.90" y2="1165.5" stroke-width="1.6"/>
<line x1="710.00" y1="1165.5" x2="710.00" y2="1159.0" stroke-width="1.6"/>
<line x1="814.60" y1="1165.5" x2="814.60" y2="1159.0" stroke-width="1.6"/>
<line x1="919.20" y1="1165.5" x2="919.20" y2="1159.0" stroke-width="1.6"/>
<line x1="1023.80" y1="1165.5" x2="1023.80" y2="1159.0" stroke-width="1.6"/>
<line x1="1128.40" y1="1165.5" x2="1128.40" y2="1159.0" stroke-width="1.6"/>
<line x1="605.4" y1="895.0" x2="611.9" y2="895.0" stroke-width="1.5"/>
<line x1="605.4" y1="985.0" x2="611.9" y2="985.0" stroke-width="1.5"/>
<line x1="605.4" y1="1075.0" x2="611.9" y2="1075.0" stroke-width="1.5"/>
<line x1="605.4" y1="1165.3" x2="611.9" y2="1165.3" stroke-width="1.5"/>
</g>
<clipPath id="cbot"><rect x="602.4" y="892.0" width="529.0000000000001" height="275.0"/></clipPath>
<g clip-path="url(#cbot)" fill="none" stroke-width="2.5" stroke-linejoin="miter" stroke-linecap="square">
<path d="M605.40,1165.30H615.86V1042.10H626.32V977.80H636.78V937.30H647.24V957.70H657.70V937.80H668.16V956.62H678.62V939.23H689.08V955.66H699.54V940.47H710.00V954.82H720.46V941.54H730.92V954.07H741.38V942.47H751.84V953.41H762.30V943.27H772.76V952.83H783.22V943.96H793.68V952.31H804.14V944.56H814.60V951.86H825.06V945.08H835.52V951.45H845.98V945.53H856.44V951.10H866.90V945.92H877.36V950.78H887.82V946.25H898.28V950.51H908.74V946.54H919.20V950.26H929.66V946.79H940.12V950.04H950.58V947.01H961.04V949.85H971.50V947.20H981.96V949.68H992.42V947.36H1002.88V949.53H1013.34V947.50H1023.80V949.40H1034.26V947.62H1044.72V949.29H1055.18V947.73H1065.64V949.18H1076.10V947.82H1086.56V949.09H1097.02V947.90H1107.48V949.01H1117.94V947.96H1128.40" stroke="#0072BD"/>
<path d="M605.40,1165.30H615.86V1042.10H626.32V989.20H636.78V950.70H647.24V940.20H657.70V953.20H668.16V945.20H678.62V948.70H689.08V948.40H699.54V948.40H710.00V948.40H720.46V948.40H730.92V948.40H741.38V948.40H751.84V948.40H762.30V948.40H772.76V948.40H783.22V948.40H793.68V948.40H804.14V948.40H814.60V948.40H825.06V948.40H835.52V948.40H845.98V948.40H856.44V948.40H866.90V948.40H877.36V948.40H887.82V948.40H898.28V948.40H908.74V948.40H919.20V948.40H929.66V948.40H940.12V948.40H950.58V948.40H961.04V948.40H971.50V948.40H981.96V948.40H992.42V948.40H1002.88V948.40H1013.34V948.40H1023.80V948.40H1034.26V948.40H1044.72V948.40H1055.18V948.40H1065.64V948.40H1076.10V948.40H1086.56V948.40H1097.02V948.40H1107.48V948.40H1117.94V948.40H1128.40" stroke="#D95319"/>
</g>
<g fill="#000" shape-rendering="crispEdges"><rect x="605.80" y="947.00" width="2.0" height="2.8"/><rect x="614.13" y="947.00" width="2.0" height="2.8"/><rect x="622.46" y="947.00" width="2.0" height="2.8"/><rect x="630.79" y="947.00" width="2.0" height="2.8"/><rect x="639.12" y="947.00" width="2.0" height="2.8"/><rect x="647.45" y="947.00" width="2.0" height="2.8"/><rect x="655.78" y="947.00" width="2.0" height="2.8"/><rect x="664.11" y="947.00" width="2.0" height="2.8"/><rect x="672.44" y="947.00" width="2.0" height="2.8"/><rect x="680.77" y="947.00" width="2.0" height="2.8"/><rect x="689.10" y="947.00" width="2.0" height="2.8"/><rect x="697.43" y="947.00" width="2.0" height="2.8"/><rect x="705.76" y="947.00" width="2.0" height="2.8"/><rect x="714.09" y="947.00" width="2.0" height="2.8"/><rect x="722.42" y="947.00" width="2.0" height="2.8"/><rect x="730.75" y="947.00" width="2.0" height="2.8"/><rect x="739.08" y="947.00" width="2.0" height="2.8"/><rect x="747.41" y="947.00" width="2.0" height="2.8"/><rect x="755.74" y="947.00" width="2.0" height="2.8"/><rect x="764.07" y="947.00" width="2.0" height="2.8"/><rect x="772.40" y="947.00" width="2.0" height="2.8"/><rect x="780.73" y="947.00" width="2.0" height="2.8"/><rect x="789.06" y="947.00" width="2.0" height="2.8"/><rect x="797.39" y="947.00" width="2.0" height="2.8"/><rect x="805.72" y="947.00" width="2.0" height="2.8"/><rect x="814.05" y="947.00" width="2.0" height="2.8"/><rect x="822.38" y="947.00" width="2.0" height="2.8"/><rect x="830.71" y="947.00" width="2.0" height="2.8"/><rect x="839.04" y="947.00" width="2.0" height="2.8"/><rect x="847.37" y="947.00" width="2.0" height="2.8"/><rect x="855.70" y="947.00" width="2.0" height="2.8"/><rect x="864.03" y="947.00" width="2.0" height="2.8"/><rect x="872.36" y="947.00" width="2.0" height="2.8"/><rect x="880.69" y="947.00" width="2.0" height="2.8"/><rect x="889.02" y="947.00" width="2.0" height="2.8"/><rect x="897.35" y="947.00" width="2.0" height="2.8"/><rect x="905.68" y="947.00" width="2.0" height="2.8"/><rect x="914.01" y="947.00" width="2.0" height="2.8"/><rect x="922.34" y="947.00" width="2.0" height="2.8"/><rect x="930.67" y="947.00" width="2.0" height="2.8"/><rect x="939.00" y="947.00" width="2.0" height="2.8"/><rect x="947.33" y="947.00" width="2.0" height="2.8"/><rect x="955.66" y="947.00" width="2.0" height="2.8"/><rect x="963.99" y="947.00" width="2.0" height="2.8"/><rect x="972.32" y="947.00" width="2.0" height="2.8"/><rect x="980.65" y="947.00" width="2.0" height="2.8"/><rect x="988.98" y="947.00" width="2.0" height="2.8"/><rect x="997.31" y="947.00" width="2.0" height="2.8"/><rect x="1005.64" y="947.00" width="2.0" height="2.8"/><rect x="1013.97" y="947.00" width="2.0" height="2.8"/><rect x="1022.30" y="947.00" width="2.0" height="2.8"/><rect x="1030.63" y="947.00" width="2.0" height="2.8"/><rect x="1038.96" y="947.00" width="2.0" height="2.8"/><rect x="1047.29" y="947.00" width="2.0" height="2.8"/><rect x="1055.62" y="947.00" width="2.0" height="2.8"/><rect x="1063.95" y="947.00" width="2.0" height="2.8"/><rect x="1072.28" y="947.00" width="2.0" height="2.8"/><rect x="1080.61" y="947.00" width="2.0" height="2.8"/><rect x="1088.94" y="947.00" width="2.0" height="2.8"/><rect x="1097.27" y="947.00" width="2.0" height="2.8"/><rect x="1105.60" y="947.00" width="2.0" height="2.8"/><rect x="1113.93" y="947.00" width="2.0" height="2.8"/><rect x="1122.26" y="947.00" width="2.0" height="2.8"/></g>
<g font-family="Liberation Serif" font-size="26" fill="#1a1a1a" text-anchor="end">
<text x="598.6" y="903.80">150</text>
<text x="598.6" y="993.80">100</text>
<text x="598.6" y="1083.80">50</text>
<text x="598.6" y="1174.10">0</text>
</g>
<g font-family="Liberation Serif" font-size="26" fill="#1a1a1a" text-anchor="middle">
<text x="605.40" y="1196.6">0</text>
<text x="710.00" y="1196.6">10</text>
<text x="814.60" y="1196.6">20</text>
<text x="919.20" y="1196.6">30</text>
<text x="1023.80" y="1196.6">40</text>
<text x="1128.40" y="1196.6">50</text>
</g>
<text x="840.55" y="1228.70" textLength="22.86" lengthAdjust="spacingAndGlyphs" font-size="30.5" style="font-style:italic;">N</text>
<text x="863" y="1232.6" font-family="Liberation Serif" font-size="20.5" fill="#1a1a1a">opc</text>
<g transform="translate(543.7,540) rotate(-90)" font-family="Liberation Serif" fill="#1a1a1a"><text x="-0.5" y="0" font-size="30" font-style="italic">T</text><text x="37.0" y="0" font-size="30" font-style="italic">i</text><text x="48.5" y="-5.8" font-size="21">*</text><text x="47.0" y="8.2" font-size="21">d</text><text x="62.0" y="0" font-size="30">,</text><text x="73.0" y="0" font-size="30" font-style="italic">i</text><text x="84.0" y="-5.8" font-size="21">*</text><text x="83.0" y="8.2" font-size="21">q</text><text x="119.0" y="0" font-size="30">in</text><text x="152.5" y="0" font-size="30">Nm</text></g>
<path d="M518.3,502.9 Q535.8,519.5 553.3,502.9" fill="none" stroke="#1a1a1a" stroke-width="1.7"/>
<path d="M518.3,443.3 Q535.8,426.7 553.3,443.3" fill="none" stroke="#1a1a1a" stroke-width="1.7"/>
<g transform="translate(533.7,780) rotate(-90)" font-family="Liberation Serif" fill="#1a1a1a"><text x="0.5" y="0" font-size="30" font-style="italic">i</text><text x="11.5" y="-5.8" font-size="21">*</text><text x="10.8" y="8.2" font-size="21">d</text><text x="33.5" y="0" font-size="30">in</text><text x="67.5" y="0" font-size="30">A</text></g>
<g transform="translate(544.0,1075) rotate(-90)" font-family="Liberation Serif" fill="#1a1a1a"><text x="0.5" y="0" font-size="30" font-style="italic">i</text><text x="11.5" y="-5.8" font-size="21">*</text><text x="10.8" y="8.2" font-size="21">q</text><text x="33.5" y="0" font-size="30">in</text><text x="67.5" y="0" font-size="30">A</text></g>
<rect x="836.6" y="686.6" width="273.8" height="95.5" fill="#fff" stroke="#111" stroke-width="1.8"/>
<g fill="#000" shape-rendering="crispEdges"><rect x="844.90" y="704.15" width="2.0" height="2.5"/><rect x="853.25" y="704.15" width="2.0" height="2.5"/><rect x="861.60" y="704.15" width="2.0" height="2.5"/><rect x="869.95" y="704.15" width="2.0" height="2.5"/><rect x="878.30" y="704.15" width="2.0" height="2.5"/><rect x="886.65" y="704.15" width="2.0" height="2.5"/><rect x="895.00" y="704.15" width="2.0" height="2.5"/></g>
<line x1="845" y1="734.3" x2="900.7" y2="734.3" stroke="#D95319" stroke-width="2.6"/>
<line x1="845" y1="764.6" x2="900.7" y2="764.6" stroke="#0072BD" stroke-width="2.6"/>
<g font-family="Liberation Serif" fill="#000">
<text x="906.28" y="711.00" textLength="35.55" lengthAdjust="spacingAndGlyphs" font-size="25.5">ref.</text>
<text x="950.15" y="711.00" textLength="82.74" lengthAdjust="spacingAndGlyphs" font-size="25.5">solution</text>
<text x="907.37" y="740.80" textLength="27.73" lengthAdjust="spacingAndGlyphs" font-size="25.5">w/</text>
<text x="944.07" y="740.80" textLength="44.77" lengthAdjust="spacingAndGlyphs" font-size="25.5">add.</text>
<text x="999.17" y="740.80" textLength="90.12" lengthAdjust="spacingAndGlyphs" font-size="25.5">damping</text>
<text x="907.37" y="769.80" textLength="40.76" lengthAdjust="spacingAndGlyphs" font-size="25.5">w/o</text>
<text x="956.07" y="769.80" textLength="44.77" lengthAdjust="spacingAndGlyphs" font-size="25.5">add.</text>
<text x="1011.17" y="769.80" textLength="90.12" lengthAdjust="spacingAndGlyphs" font-size="25.5">damping</text>
</g>
</svg>
</body></html>
